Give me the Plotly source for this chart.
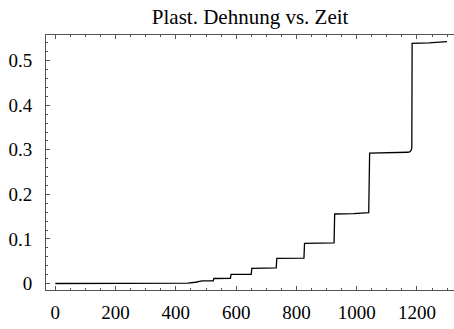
import plotly.graph_objects as go

# Zeit (s) und plastische Dehnung
zeit = [0, 415, 440, 465, 484, 487, 524, 526, 581, 583, 650, 652, 733, 735,
        825, 827, 925, 927, 990, 1040, 1043, 1100, 1150, 1170, 1177, 1181,
        1183, 1184, 1240, 1300]
dehnung = [0.0, 0.0, 0.001, 0.0028, 0.0042, 0.0058, 0.006, 0.0112, 0.0115,
           0.0205, 0.0208, 0.034, 0.035, 0.0565, 0.057, 0.090, 0.091, 0.156,
           0.157, 0.159, 0.2925, 0.293, 0.2935, 0.2945, 0.296, 0.299, 0.305,
           0.539, 0.540, 0.543]

x_ticks = [0, 200, 400, 600, 800, 1000, 1200]
y_ticks = [0, 0.1, 0.2, 0.3, 0.4, 0.5]
y_labels = ["0", "0.1", "0.2", "0.3", "0.4", "0.5"]

font = "Liberation Serif, Times New Roman, serif"
frame_col = "#555555"

fig = go.Figure(go.Scatter(
    x=zeit, y=dehnung, mode="lines",
    line=dict(color="black", width=1.3),
    hoverinfo="skip", showlegend=False,
))

fig.update_layout(
    width=454, height=329,
    margin=dict(l=46, r=0, t=35, b=39),
    paper_bgcolor="white", plot_bgcolor="white",
    font=dict(family=font, size=19, color="black"),
    title=dict(text="Plast. Dehnung vs. Zeit", x=0.551, xanchor="center",
               y=0.948, yanchor="middle", font=dict(family=font, size=21)),
    xaxis=dict(
        range=[-31, 1323], tickvals=x_ticks,
        showgrid=False, zeroline=False,
        showline=True, linecolor=frame_col, linewidth=1, mirror="ticks",
        ticks="inside", ticklen=4, tickcolor=frame_col, tickwidth=1,
        minor=dict(dtick=50, tick0=0, ticks="inside", ticklen=2,
                   tickcolor=frame_col, showgrid=False),
        tickfont=dict(family=font, size=19), ticklabelstandoff=5,
    ),
    yaxis=dict(
        range=[-0.0146, 0.5577], tickvals=y_ticks, ticktext=y_labels,
        showgrid=False, zeroline=False,
        showline=True, linecolor=frame_col, linewidth=1,
        ticks="inside", ticklen=4, tickcolor=frame_col, tickwidth=1,
        minor=dict(dtick=0.02, tick0=0, ticks="inside", ticklen=2,
                   tickcolor=frame_col, showgrid=False),
        tickfont=dict(family=font, size=19), ticklabelstandoff=9,
    ),
)

fig.write_html("out.html")
